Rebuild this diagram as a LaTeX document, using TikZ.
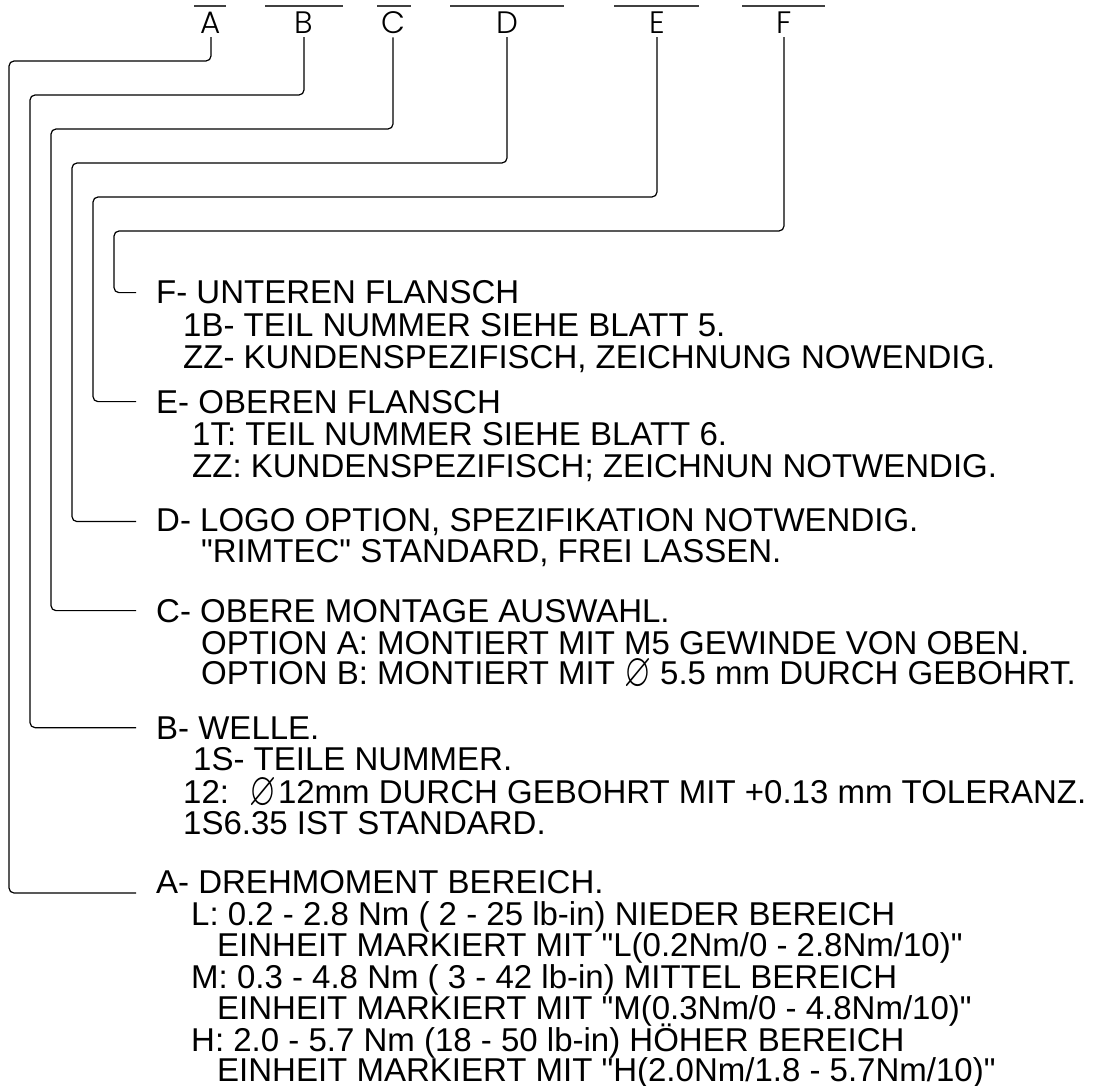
\documentclass[tikz,border=0pt]{standalone}
\usepackage{amssymb}
\usepackage{graphicx}
\usepackage{fontspec}
\setmainfont{Liberation Sans}[Ligatures=TeXOff]
\newfontfamily\tagfont{Poppins Light}
\usepackage{tikz}
\newcommand\dia{\smash{\raisebox{-2.5pt}{\scalebox{1.05}[1.45]{$\varnothing$}}}}

\begin{document}
\begin{tikzpicture}[x=1pt,y=-1pt,
        leader/.style={line width=1.2pt,rounded corners=5pt,shorten <=3pt,shorten >=20pt},
        partbar/.style={line width=2pt,black!75},
        letter/.style={inner sep=0pt,anchor=base,font=\tagfont\fontsize{31}{31}\selectfont},
        note/.style={inner sep=0pt,anchor=base west,font=\fontsize{33}{33}\selectfont}]
        \useasboundingbox (0,0) rectangle (1093,1086);
        % part number fields
        \draw [partbar] (194,6) -- (226,6);
        \draw [partbar] (265,6) -- (343,6);
        \draw [partbar] (377,6) -- (411,6);
        \draw [partbar] (450,6) -- (564,6);
        \draw [partbar] (614,6) -- (699,6);
        \draw [partbar] (742,6) -- (825,6);
        \node [letter] (lA) at (211,34) {A};
        \node [letter] (lB) at (304,34) {B};
        \node [letter] (lC) at (393,34) {C};
        \node [letter] (lD) at (507,34) {D};
        \node [letter] (lE) at (657,34) {E};
        \node [letter] (lF) at (784,34) {F};
        % F
        \node [note] (tF) at (156,304) {F- UNTEREN FLANSCH};
        \node [note] (tF1) at (183,336) {1B- TEIL NUMMER SIEHE BLATT 5.};
        \node [note] (tF2) at (183,368) {ZZ- KUNDENSPEZIFISCH, ZEICHNUNG NOWENDIG.};
        % E
        \node [note] (tE) at (156,413) {E- OBEREN FLANSCH};
        \node [note] (tE1) at (192,445) {1T: TEIL NUMMER SIEHE BLATT 6.};
        \node [note] (tE2) at (192,477) {ZZ: KUNDENSPEZIFISCH; ZEICHNUN NOTWENDIG.};
        % D
        \node [note] (tD) at (156,531) {D- LOGO OPTION, SPEZIFIKATION NOTWENDIG.};
        \node [note] (tD1) at (201,562) {"RIMTEC" STANDARD, FREI LASSEN.};
        % C
        \node [note] (tC) at (156,622) {C- OBERE MONTAGE AUSWAHL.};
        \node [note] (tC1) at (201,654) {OPTION A: MONTIERT MIT M5 GEWINDE VON OBEN.};
        \node [note] (tC2) at (201,684) {OPTION B: MONTIERT MIT \dia{} 5.5 mm DURCH GEBOHRT.};
        % B
        \node [note] (tB) at (156,739) {B- WELLE.};
        \node [note] (tB1) at (193,770) {1S- TEILE NUMMER.};
        \node [note] (tB2) at (183,803) {12:\hspace{20pt}\dia\hspace{2pt}12mm DURCH GEBOHRT MIT +0.13 mm TOLERANZ.};
        \node [note] (tB3) at (183,834) {1S6.35 IST STANDARD.};
        % A
        \node [note] (tA) at (156,893) {A- DREHMOMENT BEREICH.};
        \node [note] (tA1) at (191,925) {L: 0.2 - 2.8 Nm ( 2 - 25 lb-in) NIEDER BEREICH};
        \node [note] (tA2) at (217,956) {EINHEIT MARKIERT MIT "L(0.2Nm/0 - 2.8Nm/10)"};
        \node [note] (tA3) at (191,988) {M: 0.3 - 4.8 Nm ( 3 - 42 lb-in) MITTEL BEREICH};
        \node [note] (tA4) at (217,1019) {EINHEIT MARKIERT MIT "M(0.3Nm/0 - 4.8Nm/10)"};
        \node [note] (tA5) at (191,1051) {H: 2.0 - 5.7 Nm (18 - 50 lb-in) HÖHER BEREICH};
        \node [note] (tA6) at (217,1081) {EINHEIT MARKIERT MIT "H(2.0Nm/1.8 - 5.7Nm/10)"};
        % leaders
        \draw [leader] (lA.south) |- (9,61) |- (tA.base west);
        \draw [leader] (lB.south) |- (30,95) |- (tB.west);
        \draw [leader] (lC.south) |- (51,129) |- (tC.west);
        \draw [leader] (lD.south) |- (72,163) |- (tD.west);
        \draw [leader] (lE.south) |- (93,197) |- (tE.west);
        \draw [leader] (lF.south) |- (114,231) |- (tF.west);
    \end{tikzpicture}
\end{document}
